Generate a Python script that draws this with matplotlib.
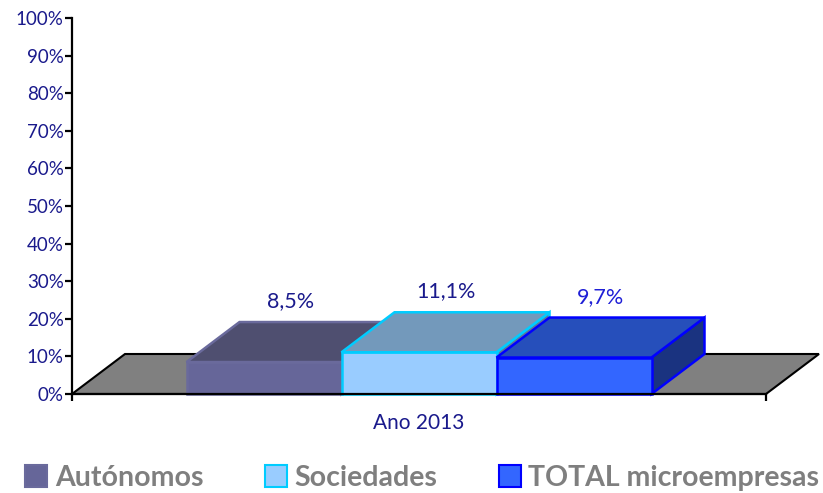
import matplotlib
matplotlib.use('Agg')
import matplotlib.pyplot as plt
from matplotlib.patches import Polygon, Patch

# datos
categoria = 'Ano 2013'
series = ['Autónomos', 'Sociedades', 'TOTAL microempresas']
valores = [8.5, 11.1, 9.7]
etiquetas = ['8,5%', '11,1%', '9,7%']

# colores (frente, arriba, lado, borde, etiqueta)
c_frente = ['#666699', '#99ccff', '#3366ff']
c_arriba = ['#4f4f70', '#7399bb', '#264fbb']
c_lado = ['#3d3d5c', '#5c7a99', '#1a3380']
c_borde = ['#6a6a9c', '#00ccff', '#0000ff']
c_etiq = ['#1a1a8c', '#1a1a8c', '#1f1fd6']

plt.rcParams['font.family'] = ['Lato', 'DejaVu Sans']

W, H = 823, 493
fig = plt.figure(figsize=(W / 100, H / 100), dpi=100)
x0, x1, ytop, ybot = 72, 766, 18, 394
ax = fig.add_axes([x0 / W, 1 - ybot / H, (x1 - x0) / W, (ybot - ytop) / H])
ax.set_xlim(0, 1)
ax.set_ylim(0, 100)

# profundidad 3D (en unidades de datos)
ddx = 53 / (x1 - x0)
ddy = 40 / (ybot - ytop) * 100

# suelo
ax.add_patch(Polygon([(0, 0), (1, 0), (1 + ddx, ddy), (ddx, ddy)], closed=True,
                     facecolor='#808080', edgecolor='black', lw=1.5, clip_on=False, zorder=1))

# barras
w = 155 / (x1 - x0)
for i, v in enumerate(valores):
    l = 0.5 - 1.5 * w + i * w
    r = l + w
    frente = [(l, 0), (r, 0), (r, v), (l, v)]
    arriba = [(l, v), (r, v), (r + ddx, v + ddy), (l + ddx, v + ddy)]
    lado = [(r, 0), (r + ddx, ddy), (r + ddx, v + ddy), (r, v)]
    for pts, fc in [(lado, c_lado[i]), (frente, c_frente[i]), (arriba, c_arriba[i])]:
        ax.add_patch(Polygon(pts, closed=True, facecolor=fc, edgecolor=c_borde[i],
                             lw=1.8, clip_on=False, zorder=2 + i, joinstyle='miter'))
    ax.annotate(etiquetas[i], (l + w / 2 + ddx / 2, v + ddy), xytext=(0, 15),
                textcoords='offset points', ha='center', va='center',
                fontsize=15.5, color=c_etiq[i], zorder=10)

# ejes
for s in ['top', 'right']:
    ax.spines[s].set_visible(False)
ax.spines['left'].set_linewidth(1.6)
ax.spines['bottom'].set_linewidth(1.6)
ax.spines['bottom'].set_zorder(20)
ax.set_yticks(range(0, 101, 10))
ax.set_yticklabels([f'{t}%' for t in range(0, 101, 10)])
ax.tick_params(axis='y', length=5, width=1.6, labelsize=13.5, labelcolor='#1a1a8c', pad=1)
ax.set_xticks([0, 1])
ax.set_xticklabels(['', ''])
ax.tick_params(axis='x', length=5, width=1.6)
ax.text(0.5, -7.6, categoria, ha='center', va='center', fontsize=15, color='#1a1a8c')

# leyenda
handles = [Patch(facecolor=c_frente[i], edgecolor=c_borde[i], lw=1.5) for i in range(3)]
leg = fig.legend(handles, series, loc='center left', bbox_to_anchor=(25 / W, 1 - 478 / H),
                 ncol=3, frameon=False, borderpad=0, borderaxespad=0, handlelength=0.77,
                 handleheight=0.77, handletextpad=0.28, columnspacing=2.15,
                 prop={'size': 20.5, 'weight': 'bold'})
for t in leg.get_texts():
    t.set_color('#7f7f7f')

fig.savefig('out.png', dpi=100)
